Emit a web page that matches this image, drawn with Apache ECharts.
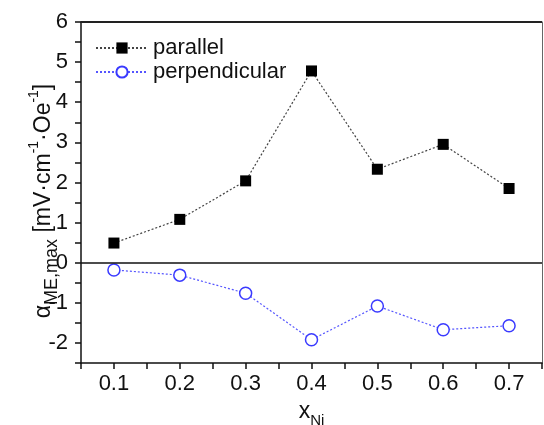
<!DOCTYPE html>
<html>
<head>
<meta charset="utf-8">
<style>
  html, body { margin: 0; padding: 0; background: #ffffff; }
  #chart { width: 544px; height: 425px; }
</style>
<script src="https://cdn.jsdelivr.net/npm/echarts@6/dist/echarts.min.js"></script>
</head>
<body>
<div id="chart"></div>
<script>
// Ni fraction of the samples
var xNi = [0.1, 0.2, 0.3, 0.4, 0.5, 0.6, 0.7];
// maximum ME coefficient, mV·cm^-1·Oe^-1
var parallel = [0.49, 1.08, 2.04, 4.78, 2.33, 2.95, 1.85];
var perpendicular = [-0.18, -0.31, -0.76, -1.92, -1.08, -1.67, -1.57];
// axis tick labels
var xTicks = ['0.1', '0.2', '0.3', '0.4', '0.5', '0.6', '0.7'];
var yTicks = ['-2', '-1', '0', '1', '2', '3', '4', '5', '6'];

function pairs(xs, ys) {
  return xs.map(function (x, i) { return [x, ys[i]]; });
}

var FONT = '"Liberation Sans", Arial, sans-serif';
var chart = echarts.init(document.getElementById('chart'), null, { renderer: 'canvas' });

// shared range of the frame axes
var X_MIN = 0.05, X_MAX = 0.75, Y_MIN = -2.5, Y_MAX = 6;

chart.setOption({
  animation: false,
  grid: {
    left: 81, right: 2, top: 22, bottom: 62,
    containLabel: false, outerBoundsMode: 'none'
  },
  legend: {
    orient: 'vertical',
    left: 90,
    top: 32,
    itemWidth: 52,
    itemHeight: 14,
    itemGap: 2,
    textStyle: { fontFamily: FONT, fontSize: 22, color: '#111' },
    data: ['parallel', 'perpendicular']
  },
  xAxis: [{
    type: 'value',
    min: X_MIN,
    max: X_MAX,
    interval: 0.05,
    position: 'bottom',
    name: '{x|x}{sub|Ni}',
    nameLocation: 'middle',
    nameGap: 33,
    nameTextStyle: {
      fontFamily: FONT,
      rich: {
        x: { fontFamily: FONT, fontSize: 23, color: '#111', lineHeight: 32, verticalAlign: 'middle' },
        sub: { fontFamily: FONT, fontSize: 15, color: '#111', lineHeight: 32, verticalAlign: 'bottom' }
      }
    },
    axisLine: { show: true, onZero: false, lineStyle: { color: '#111', width: 1.5 } },
    axisTick: { show: true, inside: false, length: 6, lineStyle: { color: '#111', width: 1.5 } },
    splitLine: { show: false },
    axisLabel: {
      fontFamily: FONT, fontSize: 22, color: '#111', margin: 10,
      formatter: function (v) {
        var s = (Math.round(v * 100) / 100).toFixed(1);
        var k = Math.round(v * 100);
        return (k % 10 === 0 && xTicks.indexOf(s) >= 0) ? s : '';
      }
    }
  }],
  yAxis: [{
    type: 'value',
    min: Y_MIN,
    max: Y_MAX,
    interval: 0.5,
    position: 'left',
    axisLine: { show: true, onZero: false, lineStyle: { color: '#111', width: 1.5 } },
    axisTick: { show: true, inside: false, length: 6, lineStyle: { color: '#111', width: 1.5 } },
    splitLine: { show: false },
    axisLabel: {
      fontFamily: FONT, fontSize: 22, color: '#111', margin: 13,
      formatter: function (v) {
        var s = String(Math.round(v * 10) / 10);
        return yTicks.indexOf(s) >= 0 ? s : '';
      }
    }
  }, {
    // right frame edge
    type: 'value',
    min: Y_MIN,
    max: Y_MAX,
    position: 'right',
    axisLine: { show: true, onZero: false, lineStyle: { color: '#666', width: 1 } },
    axisTick: { show: false },
    axisLabel: { show: false },
    splitLine: { show: false }
  }],
  graphic: [{
    type: 'text',
    x: 44,
    y: 201,
    rotation: Math.PI / 2,
    style: {
      text: '{a|α}{sub|ME,max}{n| [mV·cm}{sup|-1}{n|·Oe}{sup|-1}{n|]}',
      align: 'center',
      verticalAlign: 'middle',
      rich: {
        a: { fontFamily: FONT, fontSize: 23, fill: '#111', lineHeight: 34, verticalAlign: 'middle' },
        n: { fontFamily: FONT, fontSize: 23, fill: '#111', lineHeight: 34, verticalAlign: 'middle' },
        sub: { fontFamily: FONT, fontSize: 18, fill: '#111', lineHeight: 34, verticalAlign: 'bottom' },
        sup: { fontFamily: FONT, fontSize: 14, fill: '#111', lineHeight: 34, verticalAlign: 'top' }
      }
    }
  }],
  series: [{
    name: 'parallel',
    type: 'line',
    xAxisIndex: 0,
    yAxisIndex: 0,
    data: pairs(xNi, parallel),
    symbol: 'rect',
    symbolSize: 11,
    itemStyle: { color: '#000000' },
    lineStyle: { color: '#444444', width: 1.2, type: [2, 2] },
    markLine: {
      silent: true,
      symbol: 'none',
      label: { show: false },
      lineStyle: { color: '#111', width: 1.5, type: 'solid' },
      data: [{ yAxis: 0 }]
    }
  }, {
    name: 'perpendicular',
    type: 'line',
    xAxisIndex: 0,
    yAxisIndex: 0,
    data: pairs(xNi, perpendicular),
    symbol: 'circle',
    symbolSize: 12,
    itemStyle: { color: '#ffffff', borderColor: '#3a3aff', borderWidth: 1.5 },
    lineStyle: { color: '#5555ff', width: 1.2, type: [2, 2] }
  }]
});

// top frame edge, placed from the grid's own coordinate system
var pTL = chart.convertToPixel({ xAxisIndex: 0, yAxisIndex: 0 }, [X_MIN, Y_MAX]);
var pTR = chart.convertToPixel({ xAxisIndex: 0, yAxisIndex: 0 }, [X_MAX, Y_MAX]);
chart.setOption({
  graphic: [{
    type: 'text',
    x: 44,
    y: 201,
    rotation: Math.PI / 2,
    style: {
      text: '{a|α}{sub|ME,max}{n| [mV·cm}{sup|-1}{n|·Oe}{sup|-1}{n|]}',
      align: 'center',
      verticalAlign: 'middle',
      rich: {
        a: { fontFamily: FONT, fontSize: 23, fill: '#111', lineHeight: 34, verticalAlign: 'middle' },
        n: { fontFamily: FONT, fontSize: 23, fill: '#111', lineHeight: 34, verticalAlign: 'middle' },
        sub: { fontFamily: FONT, fontSize: 18, fill: '#111', lineHeight: 34, verticalAlign: 'bottom' },
        sup: { fontFamily: FONT, fontSize: 14, fill: '#111', lineHeight: 34, verticalAlign: 'top' }
      }
    }
  }, {
    type: 'line',
    z: 100,
    shape: { x1: pTL[0], y1: pTL[1], x2: pTR[0], y2: pTR[1] },
    style: { stroke: '#222', lineWidth: 2 }
  }]
}, { replaceMerge: ['graphic'] });
</script>
</body>
</html>
